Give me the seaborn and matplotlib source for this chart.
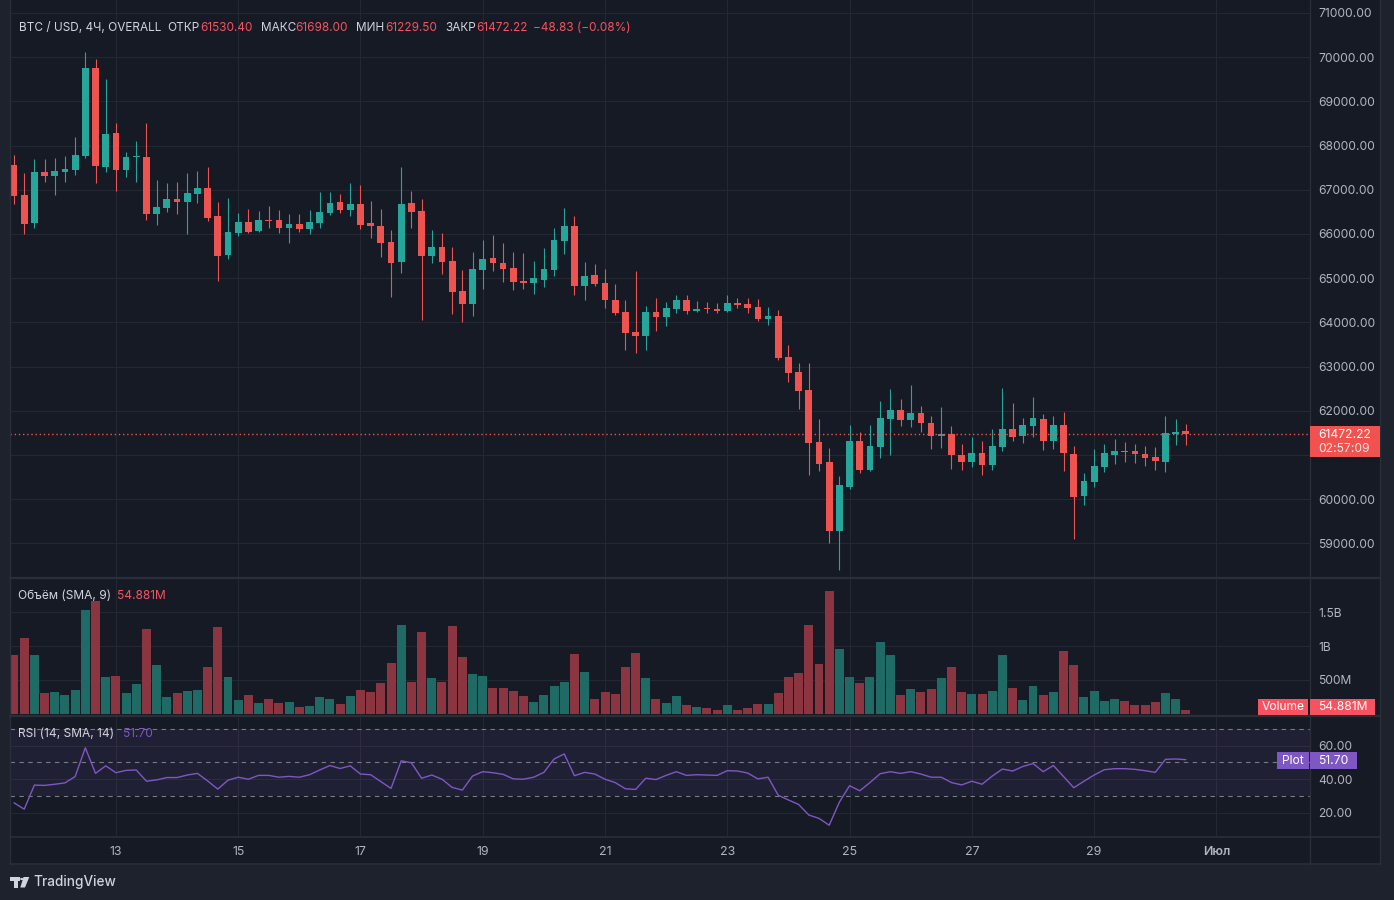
import pandas as pd
import matplotlib
matplotlib.use('Agg')
import matplotlib.pyplot as plt
import seaborn as sns
from matplotlib.patches import Rectangle, Polygon, Circle
from matplotlib.lines import Line2D
from matplotlib import transforms

# BTC / USD 4h candles, 11.06 08:00 -> 30.06 12:00
open_ = [67560, 66880, 66253, 67400, 67317, 67400, 67452, 67769, 69753, 67520,
         68283, 67452, 67730, 67740, 66457, 66593, 66790, 66728, 66909, 67038,
         66405, 65529, 66027, 66269, 66066, 66314, 66314, 66133, 66224, 66111,
         66246, 66473, 66722, 66541, 66676, 66246, 66179, 65817, 65364, 66699,
         66518, 65500, 65704, 65387, 64708, 64414, 65183, 65455, 65342, 65228,
         64935, 64889, 64957, 65183, 65839, 66179, 64822, 65070, 64889, 64505,
         64233, 63781, 63690, 64233, 64120, 64301, 64505, 64256, 64301, 64301,
         64256, 64437, 64414, 64346, 64075, 64142, 63215, 62876, 62468, 61291,
         60839, 59278, 60274, 61314, 60658, 61179, 61812, 62016, 61790, 61948,
         61722, 61428, 61473, 60998, 60839, 61043, 60771, 61179, 61586, 61428,
         61654, 61812, 61314, 61676, 61021, 60070, 60387, 60726, 60998, 61088,
         61088, 61021, 60953, 60839, 61473, 61530.40]
high = [67785, 67378, 67694, 67694, 67717, 67762, 68192, 70115, 69957, 69504,
        68509, 67853, 68102, 68509, 67219, 67151, 67174, 67378, 67423, 67513,
        66722, 66812, 66473, 66563, 66518, 66631, 66541, 66450, 66450, 66541,
        66948, 66948, 66903, 67151, 67106, 66744, 66563, 66088, 67513, 66971,
        66790, 66088, 66020, 65704, 65183, 65590, 65862, 65975, 65794, 65590,
        65568, 65387, 65681, 66133, 66586, 66405, 65364, 65319, 65206, 64866,
        64505, 65160, 64369, 64550, 64459, 64618, 64618, 64482, 64459, 64437,
        64618, 64550, 64550, 64527, 64346, 64278, 63486, 63079, 63079, 61812,
        61156, 60523, 61676, 61518, 61676, 62219, 62491, 62265, 62581, 62106,
        61880, 62084, 61654, 61247, 61405, 61314, 61586, 62514, 62174, 61835,
        62310, 61925, 61880, 61970, 61201, 60591, 61134, 61247, 61360, 61292,
        61247, 61201, 61179, 61880, 61812, 61698.00]
low = [66683, 66004, 66140, 67181, 66887, 67181, 67340, 67724, 67158, 67407,
       66977, 67294, 67181, 66321, 66208, 66502, 66457, 66004, 66706, 66299,
       64941, 65439, 65959, 66027, 66043, 66133, 66020, 65794, 66043, 65998,
       66133, 66427, 66473, 66405, 66111, 65907, 65477, 64572, 65115, 66133,
       64052, 65342, 65092, 64188, 64007, 64143, 64753, 65160, 64912, 64731,
       64753, 64640, 64799, 65047, 65545, 64618, 64505, 64822, 64324, 64165,
       63373, 63305, 63373, 63803, 63916, 64210, 64188, 64233, 64210, 64210,
       64233, 64324, 64210, 64029, 63939, 63147, 62649, 62038, 60545, 60636,
       59007, 58396, 60229, 60591, 60636, 60930, 60998, 61654, 61631, 61518,
       61134, 61156, 60681, 60658, 60726, 60545, 60658, 61088, 61314, 61269,
       61405, 61111, 61134, 60636, 59098, 59867, 60274, 60613, 60794, 60839,
       60817, 60749, 60658, 60613, 61224, 61229.50]
close = [66865, 66231, 67400, 67317, 67423, 67468, 67785, 69753, 67543, 68260,
         67452, 67740, 67740, 66457, 66608, 66790, 66728, 66925, 67038, 66366,
         65507, 66043, 66269, 66043, 66314, 66292, 66133, 66224, 66111, 66269,
         66495, 66699, 66541, 66676, 66201, 66179, 65794, 65342, 66676, 66495,
         65500, 65704, 65364, 64686, 64414, 65206, 65432, 65342, 65206, 64912,
         64889, 65002, 65206, 65862, 66179, 64822, 65047, 64866, 64505, 64210,
         63758, 63690, 64233, 64120, 64324, 64505, 64256, 64301, 64290, 64256,
         64437, 64391, 64324, 64075, 64142, 63192, 62853, 62446, 61269, 60794,
         59278, 60319, 61314, 60658, 61201, 61835, 62016, 61790, 61948, 61722,
         61428, 61473, 60998, 60839, 61043, 60771, 61201, 61586, 61405, 61676,
         61835, 61314, 61676, 61043, 60048, 60410, 60749, 61043, 61088, 61066,
         61021, 60930, 60862, 61495, 61518, 61472.22]
# volume in millions
volume = [861, 1114, 861, 312, 327, 282, 356, 1530, 1663, 549,
          564, 312, 431, 1247, 713, 252, 312, 342, 356, 683,
          1277, 549, 208, 282, 163, 223, 163, 178, 104, 119,
          252, 223, 149, 267, 356, 327, 446, 743, 1307, 475,
          1203, 520, 475, 1292, 832, 579, 564, 386, 386, 342,
          267, 178, 282, 416, 475, 876, 609, 223, 327, 297,
          683, 891, 520, 223, 163, 267, 134, 104, 89, 59,
          134, 59, 89, 149, 149, 312, 535, 594, 1307, 728,
          1812, 950, 535, 446, 535, 1054, 861, 282, 371, 327,
          371, 520, 683, 327, 297, 297, 342, 861, 386, 208,
          416, 282, 327, 921, 713, 252, 342, 193, 223, 193,
          134, 134, 178, 312, 223, 54.881]
rsi = [25.9, 22.1, 36.5, 36.3, 37.0, 37.8, 41.6, 58.8, 43.5, 48.0,
       43.9, 45.3, 45.5, 38.8, 39.6, 41.0, 41.0, 42.5, 43.5, 39.0,
       34.1, 39.4, 41.2, 40.0, 42.3, 42.3, 41.2, 41.7, 41.2, 42.7,
       45.5, 48.2, 46.4, 48.0, 43.1, 42.7, 38.6, 34.5, 51.0, 49.8,
       40.6, 42.5, 40.0, 35.1, 33.5, 41.9, 44.5, 43.9, 42.9, 40.2,
       40.0, 41.2, 44.1, 52.1, 55.1, 42.1, 44.1, 43.1, 40.0, 38.0,
       34.3, 33.9, 40.6, 39.8, 42.3, 44.5, 42.3, 42.7, 42.5, 42.3,
       45.1, 44.9, 43.7, 40.2, 41.2, 30.4, 27.6, 24.9, 18.6, 16.6,
       12.5, 26.3, 36.1, 33.1, 38.0, 43.3, 44.5, 43.5, 44.5, 43.1,
       41.2, 41.2, 38.0, 36.6, 38.8, 37.0, 41.9, 46.1, 44.9, 47.6,
       49.4, 44.5, 48.2, 41.6, 34.9, 38.8, 42.5, 45.7, 46.3, 46.3,
       45.9, 45.1, 44.1, 51.9, 52.1, 51.70]

tick_dates = ['2024-06-13', '2024-06-15', '2024-06-17', '2024-06-19', '2024-06-21',
              '2024-06-23', '2024-06-25', '2024-06-27', '2024-06-29', '2024-07-01']
tick_labels = ['13', '15', '17', '19', '21', '23', '25', '27', '29', 'Июл']
price_ticks = list(range(59000, 71001, 1000))
vol_ticks = [500, 1000, 1500]
vol_tick_labels = ['500M', '1B', '1.5B']
rsi_ticks = [20, 40, 60]

last_price = 61472.22

# colours
OUTER = '#1E222D'
BG = '#161A25'
GRID = '#242833'
BORDER = '#2A2E39'
TXT = '#B2B5BE'
HDR = '#D1D4DC'
UP = '#26A69A'
DN = '#EF5350'
VOL_UP = '#1F6A64'
VOL_DN = '#8B3541'
RED_TXT = '#F7525F'
PURPLE = '#7E57C2'

W, H = 1394, 900


def box(x0, y0, x1, y1):
    return [x0 / W, 1 - y1 / H, (x1 - x0) / W, (y1 - y0) / H]


def fx(x):
    return x / W


def fy(y):
    return 1 - y / H


sns.set_theme(style='dark', rc={'axes.facecolor': BG, 'figure.facecolor': OUTER})
plt.rcParams['font.family'] = ['Inter', 'DejaVu Sans']

times = pd.date_range('2024-06-11 08:00', periods=len(close), freq='4h')
idx = list(range(len(close)))
tick_pos = [(pd.Timestamp(d) - times[0]) / pd.Timedelta('4h') for d in tick_dates]

df = pd.DataFrame({'idx': idx, 'open': open_, 'high': high, 'low': low,
                   'close': close, 'vol': volume, 'rsi': rsi})
df['dir'] = ['up' if c >= o else 'down' for o, c in zip(df['open'], df['close'])]

fig = plt.figure(figsize=(13.94, 9), dpi=100, facecolor=OUTER)
fig.add_artist(Rectangle((fx(10), fy(864)), fx(1370), 864 / H, transform=fig.transFigure,
                         facecolor=BG, edgecolor='none', zorder=-2))

ax_p = fig.add_axes(box(10, 0, 1310, 577))
ax_v = fig.add_axes(box(10, 579, 1310, 715))
ax_r = fig.add_axes(box(10, 717, 1310, 836))
ax_t = fig.add_axes(box(10, 838, 1310, 864))

# candle step is 10.19 px, first candle centre at x=14
xl, xr = (10 - 14) / 10.19, (1310 - 14) / 10.19

for ax in (ax_p, ax_v, ax_r):
    ax.set_facecolor(BG)
    ax.set_xticks(tick_pos)
    ax.grid(True, color=GRID, linewidth=0.8)
    ax.set_axisbelow(True)
    for s in ax.spines.values():
        s.set_visible(False)
    ax.yaxis.tick_right()
    ax.tick_params(axis='x', length=0, labelbottom=False)
    ax.tick_params(axis='y', length=0, pad=6, labelcolor=TXT, labelsize=8.7)

# price pane
colors = [UP if d == 'up' else DN for d in df['dir']]
ax_p.vlines(df['idx'], df['low'], df['high'], colors=colors, linewidth=0.8)
body_lo = df[['open', 'close']].min(axis=1)
body_h = (df['close'] - df['open']).abs().clip(lower=30)
ax_p.bar(df['idx'], body_h, bottom=body_lo, width=0.66, color=colors, linewidth=0)
ax_p.axhline(last_price, color=DN, linestyle=(0, (1, 2)), linewidth=1)
ax_p.set_ylim(58238, 71292)
ax_p.set_yticks(price_ticks)
# the 61000 label sits under the last-price box
ax_p.set_yticklabels(['' if p == 61000 else f'{p:.2f}' for p in price_ticks])
ax_p.set_xlim(xl, xr)

# volume pane
sns.barplot(data=df, x='idx', y='vol', hue='dir', palette={'up': VOL_UP, 'down': VOL_DN},
            native_scale=True, dodge=False, width=0.88, saturation=1, errorbar=None,
            legend=False, linewidth=0, ax=ax_v)
ax_v.set_ylim(-20.7, 1993)
ax_v.set_yticks(vol_ticks)
ax_v.set_yticklabels(vol_tick_labels)
ax_v.set_xlim(xl, xr)
ax_v.set_xlabel('')
ax_v.set_ylabel('')

# rsi pane
ax_r.axhspan(30, 70, color=PURPLE, alpha=0.1, linewidth=0)
for lvl in (30, 50, 70):
    ax_r.axhline(lvl, color='#787B86', linewidth=0.8, linestyle=(0, (4, 4)))
sns.lineplot(data=df, x='idx', y='rsi', color=PURPLE, linewidth=1.0, ax=ax_r)
ax_r.set_ylim(6.06, 77.2)
ax_r.set_yticks(rsi_ticks)
ax_r.set_yticklabels([f'{v:.2f}' for v in rsi_ticks])
ax_r.set_xlim(xl, xr)
ax_r.set_xlabel('')
ax_r.set_ylabel('')

# time axis
ax_t.set_facecolor(BG)
ax_t.set_xlim(xl, xr)
ax_t.set_ylim(0, 1)
ax_t.axis('off')
tr = transforms.blended_transform_factory(ax_t.transData, ax_t.transAxes)
for p, lab in zip(tick_pos, tick_labels):
    ax_t.text(p, 0.45, lab, transform=tr, ha='center', va='center', color=TXT,
              fontsize=8.9, fontweight='semibold' if lab == 'Июл' else 'normal')

# frame lines
for (x0, y0, x1, y1, lw) in [(10, 577.8, 1380, 577.8, 1.6), (10, 716, 1380, 716, 1.6),
                             (10, 837, 1380, 837, 1.2), (1310, 0, 1310, 864, 1.0),
                             (10, 864, 1380, 864, 1.2), (10, 0, 10, 864, 1.0),
                             (1380, 0, 1380, 864, 1.0)]:
    fig.add_artist(Line2D([fx(x0), fx(x1)], [fy(y0), fy(y1)], transform=fig.transFigure,
                          color=BORDER, linewidth=lw, zorder=2))

# header
hdr = [(18.7, 'BTC / USD, 4Ч, OVERALL', HDR), (167.6, 'ОТКР', HDR), (200, '61530.40', RED_TXT),
       (260.5, 'МАКС', HDR), (295, '61698.00', RED_TXT), (356, 'МИН', HDR),
       (385, '61229.50', RED_TXT), (445, 'ЗАКР', HDR), (476, '61472.22', RED_TXT),
       (533, '−48.83 (−0.08%)', RED_TXT)]
for x, s, c in hdr:
    fig.text(fx(x), fy(27.7), s, color=c, fontsize=8.5, ha='left', va='center')

fig.text(fx(18.4), fy(595.7), 'Объём (SMA, 9)', color=HDR, fontsize=8.6, va='center')
fig.text(fx(117.5), fy(595.7), '54.881M', color=RED_TXT, fontsize=8.6, va='center')
fig.text(fx(18.4), fy(733.7), 'RSI (14, SMA, 14)', color=HDR, fontsize=8.6, va='center')
fig.text(fx(122.5), fy(733.7), '51.70', color=PURPLE, fontsize=8.6, va='center')


def label_box(x0, y0, x1, y1, color, lines, ha='left'):
    fig.add_artist(Rectangle((fx(x0), fy(y1)), (x1 - x0) / W, (y1 - y0) / H,
                             transform=fig.transFigure, facecolor=color,
                             edgecolor='none', zorder=5))
    for ty, s, a in lines:
        tx = x0 + 8 if ha == 'left' else (x0 + x1) / 2
        fig.text(fx(tx), fy(ty), s, color='white', alpha=a, fontsize=8.7,
                 ha=ha, va='center', zorder=6)


label_box(1310, 426, 1380, 457, '#F0524F', [(434.5, '61472.22', 1), (449, '02:57:09', 0.85)])
label_box(1258, 699, 1308, 715, RED_TXT, [(707, 'Volume', 1)], ha='center')
label_box(1310, 699, 1375, 715, RED_TXT, [(707, '54.881M', 1)])
label_box(1277, 752, 1309, 769, PURPLE, [(760.5, 'Plot', 1)], ha='center')
label_box(1310, 752, 1357, 769, PURPLE, [(760.5, '51.70', 1)])

# TradingView logo
logo = '#D1D4DC'
fig.add_artist(Rectangle((fx(10), fy(880.5)), 9.5 / W, 3.5 / H, transform=fig.transFigure,
                         facecolor=logo, edgecolor='none'))
fig.add_artist(Rectangle((fx(14), fy(887.5)), 4.3 / W, 10.5 / H, transform=fig.transFigure,
                         facecolor=logo, edgecolor='none'))
fig.add_artist(Circle((fx(21.8), fy(879)), 1.7 / W, transform=fig.transFigure,
                      facecolor=logo, edgecolor='none'))
fig.add_artist(Polygon([(fx(23.5), fy(877)), (fx(29.3), fy(877)), (fx(25), fy(887.5)),
                        (fx(20.3), fy(887.5))], closed=True, transform=fig.transFigure,
                       facecolor=logo, edgecolor='none'))
fig.text(fx(33.3), fy(882.3), 'TradingView', color=logo, fontsize=9.8,
         fontweight='medium', va='center')

fig.savefig('out.png', dpi=100, facecolor=OUTER)
